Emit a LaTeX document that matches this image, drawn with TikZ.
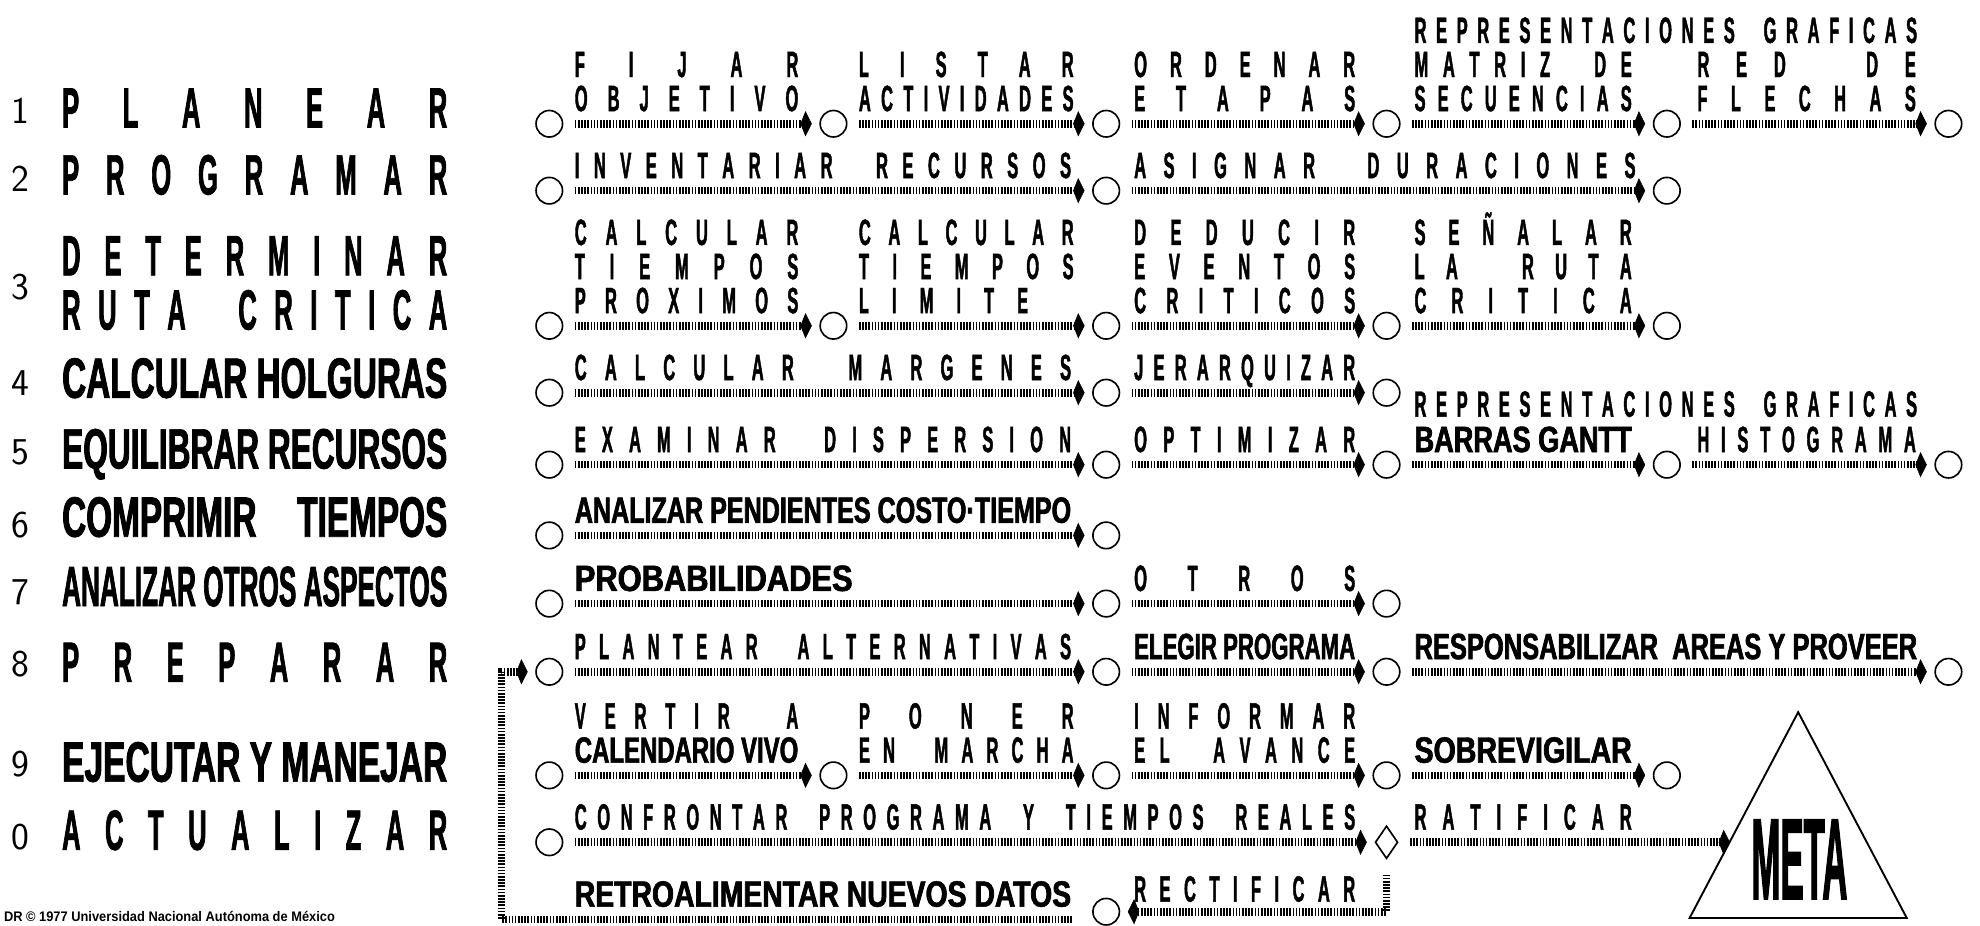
\documentclass[tikz, border = 0pt]{standalone}
\usepackage{fontspec}
\usepackage{graphicx}
\usetikzlibrary{arrows.meta, shapes.geometric}
\newfontfamily\condfont[FakeStretch = 0.45, FakeBold = 1.2]{Liberation Sans}
\newfontfamily\notefont{Liberation Sans}
\newcommand{\spread}[2]{\makebox[#1pt][s]{#2}}
\newcommand{\fitto}[2]{\resizebox{#1pt}{\height}{#2}}
\tikzset{
    ev/.style = {circle, draw, line width = 1.3pt, minimum size = 21pt, inner sep = 0pt},
    gate/.style = {diamond, draw, line width = 1.3pt, minimum width = 18pt, minimum height = 26pt, inner sep = 0pt},
    flow/.style = {line width = 6pt, dash pattern = on 1.3pt off 1.2pt, shorten <= 9pt, shorten >= 6pt,
        -{Kite[length = 9pt, width = 20pt, inset = 4pt, line width = 0.4pt]}},
    act/.style = {anchor = base west, inner sep = 0pt, font = \condfont\bfseries\fontsize{29}{29}\selectfont},
    phase/.style = {anchor = base west, inner sep = 0pt, font = \condfont\bfseries\fontsize{45}{45}\selectfont},
    phnum/.style = {anchor = base, inner sep = 0pt, font = \sffamily\fontsize{30}{30}\selectfont}
}
\begin{document}
\begin{tikzpicture}[x = 1pt, y = -1pt]
        \def\colx{{435, 660, 876, 1098, 1320, 1543}}
        \useasboundingbox (0, 0) rectangle (1568, 733);
        \foreach \n/\y in {1/98, 2/152, 3/237, 4/313, 5/368, 6/426, 7/479, 8/536, 9/615, 0/673}{
            \node[phnum] (n\n) at (16, \y) {\n};
        }
        \node[phase] (ph1) at (49, 101) {\spread{305}{P L A N E A R}};
        \node[phase] (ph2) at (49, 154) {\spread{305}{P R O G R A M A R}};
        \node[phase] (ph3a) at (49, 218) {\spread{305}{D E T E R M I N A R}};
        \node[phase] (ph3b) at (49, 261) {\spread{305}{R U T A \ \ C R I T I C A}};
        \node[phase] (ph4) at (49, 315) {\fitto{305}{CALCULAR HOLGURAS}};
        \node[phase] (ph5) at (49, 371) {\fitto{305}{EQUILIBRAR RECURSOS}};
        \node[phase] (ph6) at (49, 425) {\fitto{305}{COMPRIMIR\hspace{0.55em}TIEMPOS}};
        \node[phase] (ph7) at (49, 480) {\fitto{305}{ANALIZAR OTROS ASPECTOS}};
        \node[phase] (ph8) at (49, 540) {\spread{305}{P R E P A R A R}};
        \node[phase] (ph9) at (49, 619) {\fitto{305}{EJECUTAR Y MANEJAR}};
        \node[phase] (ph0) at (49, 673) {\spread{305}{A C T U A L I Z A R}};
        \node[anchor = base west, inner sep = 0pt, font = \notefont\bfseries\fontsize{11}{11}\selectfont] (dr) at (3, 730) {\fitto{262}{DR © 1977 Universidad Nacional Autónoma de México}};
        \foreach \c in {0, ..., 5}{
            \pgfmathsetmacro{\x}{\colx[\c]}
            \node[ev] (r1c\c) at (\x, 98) {};
        }
        \foreach \c in {0, 2, 4}{
            \pgfmathsetmacro{\x}{\colx[\c]}
            \node[ev] (r2c\c) at (\x, 151) {};
        }
        \foreach \c in {0, ..., 4}{
            \pgfmathsetmacro{\x}{\colx[\c]}
            \node[ev] (r3c\c) at (\x, 258) {};
        }
        \foreach \c in {0, 2, 3}{
            \pgfmathsetmacro{\x}{\colx[\c]}
            \node[ev] (r4c\c) at (\x, 311) {};
        }
        \foreach \c in {0, 2, 3, 4, 5}{
            \pgfmathsetmacro{\x}{\colx[\c]}
            \node[ev] (r5c\c) at (\x, 368) {};
        }
        \foreach \c in {0, 2}{
            \pgfmathsetmacro{\x}{\colx[\c]}
            \node[ev] (r6c\c) at (\x, 424) {};
        }
        \foreach \c in {0, 2, 3}{
            \pgfmathsetmacro{\x}{\colx[\c]}
            \node[ev] (r7c\c) at (\x, 478) {};
        }
        \foreach \c in {0, 2, 3, 5}{
            \pgfmathsetmacro{\x}{\colx[\c]}
            \node[ev] (r8c\c) at (\x, 532) {};
        }
        \foreach \c in {0, ..., 4}{
            \pgfmathsetmacro{\x}{\colx[\c]}
            \node[ev] (r9c\c) at (\x, 614) {};
        }
        \node[ev] (r10c0) at (435, 667) {};
        \node[gate] (rat) at (1098, 667) {};
        \node[ev] (r11c2) at (876, 722) {};
        \node[act] (t1a) at (455, 61) {\spread{177}{F I J A R}};
        \node[act] (t1b) at (455, 88) {\spread{177}{O B J E T I V O}};
        \node[act] (t2a) at (680, 61) {\spread{170}{L I S T A R}};
        \node[act] (t2b) at (680, 88) {\spread{170}{A C T I V I D A D E S}};
        \node[act] (t3a) at (898, 61) {\spread{175}{O R D E N A R}};
        \node[act] (t3b) at (898, 88) {\spread{175}{E T A P A S}};
        \node[act] (t45) at (1120, 34) {\spread{398}{R E P R E S E N T A C I O N E S \ \ G R A F I C A S}};
        \node[act] (t4a) at (1120, 61) {\spread{172}{M A T R I Z \ \ D E}};
        \node[act] (t4b) at (1120, 88) {\spread{172}{S E C U E N C I A S}};
        \node[act] (t5a) at (1344, 61) {\spread{173}{R E D \ \ D E}};
        \node[act] (t5b) at (1344, 88) {\spread{173}{F L E C H A S}};
        \node[act] (t6) at (455, 141) {\spread{393}{I N V E N T A R I A R \ \ R E C U R S O S}};
        \node[act] (t7) at (898, 141) {\spread{397}{A S I G N A R \ \ D U R A C I O N E S}};
        \node[act] (t8a) at (455, 194) {\spread{177}{C A L C U L A R}};
        \node[act] (t8b) at (455, 221) {\spread{177}{T I E M P O S}};
        \node[act] (t8c) at (455, 248) {\spread{177}{P R O X I M O S}};
        \node[act] (t9a) at (680, 194) {\spread{170}{C A L C U L A R}};
        \node[act] (t9b) at (680, 221) {\spread{170}{T I E M P O S}};
        \node[act] (t9c) at (680, 248) {\spread{134}{L I M I T E}};
        \node[act] (t10a) at (898, 194) {\spread{175}{D E D U C I R}};
        \node[act] (t10b) at (898, 221) {\spread{175}{E V E N T O S}};
        \node[act] (t10c) at (898, 248) {\spread{175}{C R I T I C O S}};
        \node[act] (t11a) at (1120, 194) {\spread{172}{S E Ñ A L A R}};
        \node[act] (t11b) at (1120, 221) {\spread{172}{L A \ \ R U T A}};
        \node[act] (t11c) at (1120, 248) {\spread{172}{C R I T I C A}};
        \node[act] (t12) at (455, 301) {\spread{393}{C A L C U L A R \ \ M A R G E N E S}};
        \node[act] (t13) at (898, 301) {\spread{175}{J E R A R Q U I Z A R}};
        \node[act] (t14) at (1120, 330) {\spread{398}{R E P R E S E N T A C I O N E S \ \ G R A F I C A S}};
        \node[act] (t15) at (455, 358) {\spread{393}{E X A M I N A R \ \ D I S P E R S I O N}};
        \node[act] (t16) at (898, 358) {\spread{175}{O P T I M I Z A R}};
        \node[act] (t17) at (1120, 358) {\fitto{172}{BARRAS GANTT}};
        \node[act] (t18) at (1344, 358) {\spread{173}{H I S T O G R A M A}};
        \node[act] (t19) at (455, 414) {\fitto{393}{ANALIZAR PENDIENTES COSTO·TIEMPO}};
        \node[act] (t20) at (455, 468) {\fitto{220}{PROBABILIDADES}};
        \node[act] (t21) at (898, 468) {\spread{175}{O T R O S}};
        \node[act] (t22) at (455, 522) {\spread{393}{P L A N T E A R \ \ A L T E R N A T I V A S}};
        \node[act] (t23) at (898, 522) {\fitto{175}{ELEGIR PROGRAMA}};
        \node[act] (t24) at (1120, 522) {\fitto{398}{RESPONSABILIZAR\ \ AREAS Y PROVEER}};
        \node[act] (t25a) at (455, 577) {\spread{177}{V E R T I R \ \ A}};
        \node[act] (t25b) at (455, 604) {\fitto{177}{CALENDARIO VIVO}};
        \node[act] (t26a) at (680, 577) {\spread{170}{P O N E R}};
        \node[act] (t26b) at (680, 604) {\spread{170}{E N \ \ M A R C H A}};
        \node[act] (t27a) at (898, 577) {\spread{175}{I N F O R M A R}};
        \node[act] (t27b) at (898, 604) {\spread{175}{E L \ \ A V A N C E}};
        \node[act] (t28) at (1120, 604) {\fitto{172}{SOBREVIGILAR}};
        \node[act] (t29) at (455, 657) {\spread{618}{C O N F R O N T A R \ \ P R O G R A M A \ \ Y \ \ T I E M P O S \ \ R E A L E S}};
        \node[act] (t30) at (1120, 657) {\spread{172}{R A T I F I C A R}};
        \node[act] (t31) at (455, 718) {\fitto{393}{RETROALIMENTAR NUEVOS DATOS}};
        \node[act] (t32) at (898, 714) {\spread{175}{R E C T I F I C A R}};
        \foreach \a/\b in {r1c0/r1c1, r1c1/r1c2, r1c2/r1c3, r1c3/r1c4, r1c4/r1c5, r2c0/r2c2, r2c2/r2c4,
            r3c0/r3c1, r3c1/r3c2, r3c2/r3c3, r3c3/r3c4, r4c0/r4c2, r4c2/r4c3,
            r5c0/r5c2, r5c2/r5c3, r5c3/r5c4, r5c4/r5c5, r6c0/r6c2, r7c0/r7c2, r7c2/r7c3,
            r8c0/r8c2, r8c2/r8c3, r8c3/r8c5, r9c0/r9c1, r9c1/r9c2, r9c2/r9c3, r9c3/r9c4, r10c0/rat}{
            \draw[flow] (\a) -- (\b);
        }
        \coordinate (apex) at (1424, 564);
        \coordinate (bl) at (1338, 727);
        \coordinate (br) at (1510, 727);
        \coordinate (metain) at (1371, 667);
        \draw[line width = 1.5pt] (apex) -- (br) -- (bl) -- cycle;
        \node[anchor = base, inner sep = 0pt, font = \condfont\bfseries\fontsize{60}{60}\selectfont] (meta) at (1425, 712) {\resizebox{76pt}{63pt}{META}};
        \draw[flow, shorten >= 1pt] (rat) -- (metain);
        \draw[flow, shorten <= 12pt] (rat) |- (r11c2);
        \coordinate (fbs) at (858, 728);
        \coordinate (fbb) at (397, 728);
        \coordinate (fbt) at (397, 532);
        \draw[flow] (fbs) -- (fbb) -- (fbt) -- (r8c0);
    \end{tikzpicture}
\end{document}
